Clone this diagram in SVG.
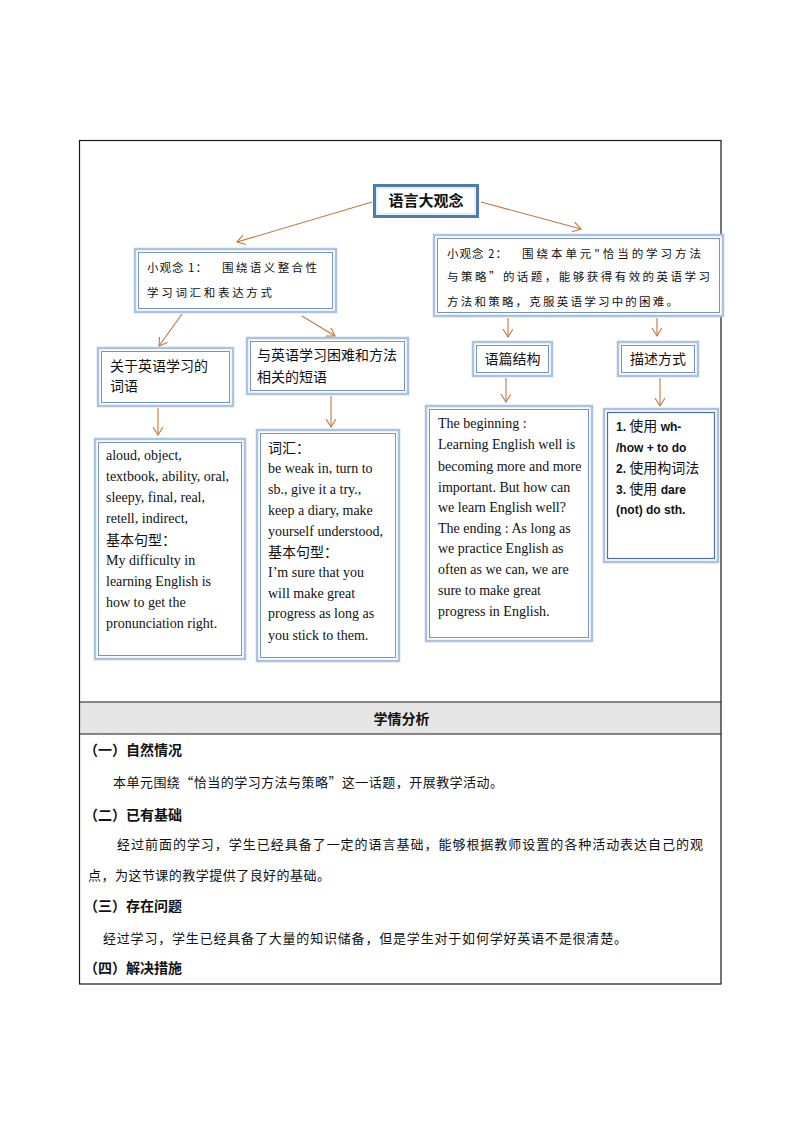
<svg xmlns="http://www.w3.org/2000/svg" width="794" height="1123" viewBox="0 0 794 1123">
<style>
.frame{fill:none;stroke:#1a1a1a;stroke-width:1.2}
.o{fill:#fff;stroke:#a9c3e2;stroke-width:2.5}
.i{fill:none;stroke:#7494c4;stroke-width:1}
.idark{fill:none;stroke:#4d6d9c;stroke-width:1.2}
.main{fill:#fff;stroke:#4f7bb3;stroke-width:3}
.mainin{fill:none;stroke:#c9d8ec;stroke-width:0.8}
.arrow{stroke:#c4773b;stroke-width:1.1;fill:none;marker-end:url(#ah)}
.cj{font-family:"Noto Sans CJK SC","Noto Sans",sans-serif;fill:#111}
.sm{font-size:11.5px}
.hd{font-size:14px}
.en{font-family:"Liberation Serif","Noto Sans CJK SC",serif;font-size:14px;fill:#111}
.zh{font-family:"Noto Sans CJK SC",sans-serif;font-size:14px;fill:#111}
.bd{font-family:"Liberation Sans","Noto Sans CJK SC",sans-serif;font-size:12px;font-weight:bold;fill:#111}
.body{font-family:"Noto Sans CJK SC",sans-serif;font-size:13px;fill:#111}
.sec{font-family:"Noto Sans CJK SC",sans-serif;font-size:14px;font-weight:bold;fill:#111}
</style>
<defs>
<marker id="ah" markerWidth="10" markerHeight="12" refX="8" refY="5" orient="auto" markerUnits="userSpaceOnUse">
<path d="M0,0 L8,5 L0,10" fill="none" stroke="#c4773b" stroke-width="1.1"/>
</marker>
</defs>

<g id="table">
<rect x="80" y="702" width="641" height="32" fill="#e6e6e6"/>
<rect class="frame" x="79.5" y="140.5" width="641.5" height="843.5"/>
<line class="frame" x1="79.5" y1="702" x2="721" y2="702"/>
<line class="frame" x1="79.5" y1="734" x2="721" y2="734"/>
<text class="sec" x="401.5" y="723.5" text-anchor="middle" font-size="15">学情分析</text>
<text class="sec" x="84" y="755">（一）自然情况</text>
<text class="body" x="113" y="787" textLength="390" lengthAdjust="spacing">本单元围绕“恰当的学习方法与策略”这一话题，开展教学活动。</text>
<text class="sec" x="84" y="819.5">（二）已有基础</text>
<text class="body" x="117" y="848.5" textLength="586" lengthAdjust="spacing">经过前面的学习，学生已经具备了一定的语言基础，能够根据教师设置的各种活动表达自己的观</text>
<text class="body" x="88" y="879.5" textLength="242" lengthAdjust="spacing">点，为这节课的教学提供了良好的基础。</text>
<text class="sec" x="84" y="911">（三）存在问题</text>
<text class="body" x="103" y="942.5" textLength="524" lengthAdjust="spacing">经过学习，学生已经具备了大量的知识储备，但是学生对于如何学好英语不是很清楚。</text>
<text class="sec" x="84" y="973">（四）解决措施</text>
</g>

<g id="connectors">
<line class="arrow" x1="372" y1="202" x2="237" y2="242"/>
<line class="arrow" x1="481" y1="202" x2="581" y2="229"/>
<line class="arrow" x1="182" y1="314" x2="159" y2="346"/>
<line class="arrow" x1="302" y1="316" x2="335" y2="336"/>
<line class="arrow" x1="508" y1="318" x2="508" y2="337"/>
<line class="arrow" x1="657" y1="318" x2="657" y2="336"/>
<line class="arrow" x1="158" y1="408" x2="158" y2="435"/>
<line class="arrow" x1="331" y1="396" x2="331" y2="427"/>
<line class="arrow" x1="506" y1="378" x2="506" y2="402"/>
<line class="arrow" x1="660" y1="378" x2="660" y2="406"/>
</g>

<g id="main">
<rect class="main" x="374.5" y="185.5" width="103" height="31"/>
<rect class="mainin" x="377" y="188" width="98" height="26"/>
<text class="cj" x="426" y="206" font-size="15" font-weight="bold" text-anchor="middle">语言大观念</text>
</g>

<g id="concept1">
<rect class="o" x="135" y="249" width="201" height="63"/>
<rect class="i" x="138.5" y="252.5" width="194" height="56"/>
<text class="cj sm" x="147" y="272" textLength="60" lengthAdjust="spacing">小观念 1：</text>
<text class="cj sm" x="222" y="272" textLength="95" lengthAdjust="spacing">围绕语义整合性</text>
<text class="cj sm" x="147" y="297" textLength="125" lengthAdjust="spacing">学习词汇和表达方式</text>
</g>

<g id="concept2">
<rect class="o" x="434" y="235" width="289" height="81"/>
<rect class="i" x="437.5" y="238.5" width="282" height="74"/>
<text class="cj sm" x="447" y="258" textLength="60" lengthAdjust="spacing">小观念 2：</text>
<text class="cj sm" x="522" y="258" textLength="179" lengthAdjust="spacing">围绕本单元"恰当的学习方法</text>
<text class="cj sm" x="447" y="281" textLength="263" lengthAdjust="spacing">与策略”的话题，能够获得有效的英语学习</text>
<text class="cj sm" x="447" y="306" textLength="231" lengthAdjust="spacing">方法和策略，克服英语学习中的困难。</text>
</g>

<g id="words">
<rect class="o" x="98" y="348" width="135" height="58"/>
<rect class="i" x="101.5" y="351.5" width="128" height="51"/>
<text class="cj hd" x="110" y="371">关于英语学习的</text>
<text class="cj hd" x="110" y="391">词语</text>
</g>

<g id="phrases">
<rect class="o" x="247" y="338" width="161" height="56"/>
<rect class="i" x="250.5" y="341.5" width="154" height="49"/>
<text class="cj hd" x="257" y="360">与英语学习困难和方法</text>
<text class="cj hd" x="257" y="382">相关的短语</text>
</g>

<g id="structure">
<rect class="o" x="473" y="342" width="79" height="34"/>
<rect class="i" x="476.5" y="345.5" width="72" height="27"/>
<text class="cj hd" x="512.5" y="364" text-anchor="middle">语篇结构</text>
</g>

<g id="describe">
<rect class="o" x="618" y="342" width="80" height="34"/>
<rect class="i" x="621.5" y="345.5" width="73" height="27"/>
<text class="cj hd" x="658" y="364" text-anchor="middle">描述方式</text>
</g>

<g id="boxA">
<rect class="o" x="95" y="439" width="150" height="220"/>
<rect class="i" x="98.5" y="442.5" width="143" height="213"/>
<text class="en" x="106" y="460">aloud, object,</text>
<text class="en" x="106" y="481">textbook, ability,  oral,</text>
<text class="en" x="106" y="502">sleepy, final,  real,</text>
<text class="en" x="106" y="523">retell, indirect,</text>
<text class="zh" x="106" y="545">基本句型：</text>
<text class="en" x="106" y="565">My difficulty in</text>
<text class="en" x="106" y="586">learning English is</text>
<text class="en" x="106" y="607">how to get the</text>
<text class="en" x="106" y="628">pronunciation right.</text>
</g>

<g id="boxB">
<rect class="o" x="257" y="430" width="142" height="231"/>
<rect class="i" x="260.5" y="433.5" width="135" height="224"/>
<text class="zh" x="268" y="453">词汇：</text>
<text class="en" x="268" y="473">be weak in, turn to</text>
<text class="en" x="268" y="494">sb., give it a try.,</text>
<text class="en" x="268" y="515">keep a diary, make</text>
<text class="en" x="268" y="536">yourself understood,</text>
<text class="zh" x="268" y="557">基本句型：</text>
<text class="en" x="268" y="577">I’m sure that you</text>
<text class="en" x="268" y="598">will make great</text>
<text class="en" x="268" y="618">progress as long as</text>
<text class="en" x="268" y="640">you stick to them.</text>
</g>

<g id="boxC">
<rect class="o" x="426" y="406" width="166" height="235"/>
<rect class="i" x="429.5" y="409.5" width="159" height="228"/>
<text class="en" x="438" y="428">The beginning :</text>
<text class="en" x="438" y="449">Learning English  well is</text>
<text class="en" x="438" y="471">becoming more and more</text>
<text class="en" x="438" y="492">important. But how can</text>
<text class="en" x="438" y="512">we learn English  well?</text>
<text class="en" x="438" y="533">The ending :  As long as</text>
<text class="en" x="438" y="553">we practice English as</text>
<text class="en" x="438" y="574">often as we can, we are</text>
<text class="en" x="438" y="595">sure to make great</text>
<text class="en" x="438" y="616">progress in English.</text>
</g>

<g id="boxD">
<rect class="o" x="604" y="409" width="114" height="153"/>
<rect class="idark" x="607.5" y="412.5" width="107" height="146"/>
<text class="bd" x="616" y="431">1. <tspan class="zh" font-weight="normal">使用</tspan> wh-</text>
<text class="bd" x="616" y="452">/how + to do</text>
<text class="bd" x="616" y="473">2. <tspan class="zh" font-weight="normal">使用构词法</tspan></text>
<text class="bd" x="616" y="494">3. <tspan class="zh" font-weight="normal">使用</tspan> dare</text>
<text class="bd" x="616" y="514">(not) do sth.</text>
</g>
</svg>
